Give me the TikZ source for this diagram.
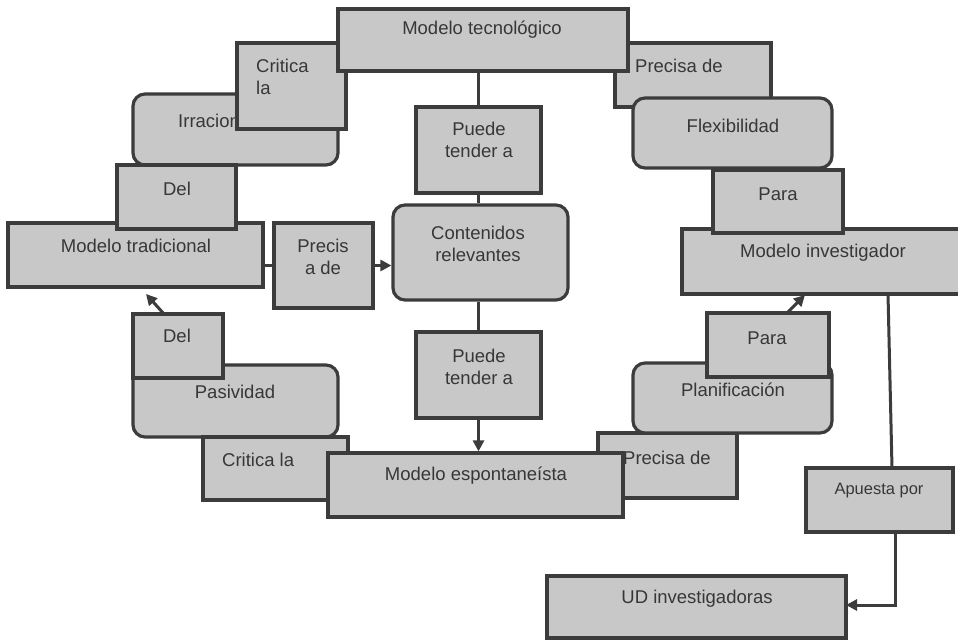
\documentclass[tikz,border=0pt]{standalone}
\usepackage{fontspec}
\setmainfont{Liberation Sans}
\usetikzlibrary{arrows.meta}
\pgfdeclarelayer{background}
\pgfsetlayers{background,main}
\definecolor{boxfill}{RGB}{200,200,200}
\definecolor{boxline}{RGB}{60,60,60}
\definecolor{txtcol}{RGB}{55,55,55}
\newcommand\mybox[6]{\node[#6, minimum width={#4-#2}, minimum height={#5-#3}] (#1) at ({(#2+#4)/2},{(#3+#5)/2}) {};}
\tikzset{
  sq/.style={draw=boxline, fill=boxfill, line width=3.2pt, inner sep=0pt, rectangle},
  rd/.style={sq, rounded corners=12pt},
  txt/.style={text=txtcol, font=\fontsize{18.5}{22.5}\selectfont, inner sep=0pt, align=center},
  txtl/.style={txt, align=left, anchor=west},
  conn/.style={draw=boxline, line width=3pt},
  arr/.style={conn, -{Triangle[length=11pt,width=11pt]}}
}
\begin{document}
\begin{tikzpicture}[x=1pt,y=-1pt]
\useasboundingbox (0,0) rectangle (958,640);
% boxes (drawing order = stacking order)
\mybox{irrac}{133}{94}{338}{165}{rd}
\node[txtl] (irrac-t) at (178,121) {Irracion};
\mybox{crit1}{237}{43}{346}{129}{sq}
\node[txtl] (crit1-t) at (256,77) {Critica\\la};
\mybox{prec1}{615}{43}{771}{107}{sq}
\node[txtl] (prec1-t) at (635,66) {Precisa de};
\mybox{modtec}{338}{9}{628}{71}{sq}
\node[txt] (modtec-t) at (482,30) {Modelo tecnológico};
\mybox{flex}{633}{98}{832}{168}{rd}
\node[txt] (flex-t) at (733,126) {Flexibilidad};
\mybox{modtrad}{8}{223}{263}{287}{sq}
\node[txt] (modtrad-t) at (136,246) {Modelo tradicional};
\mybox{del1}{117}{165}{236}{229}{sq}
\node[txt] (del1-t) at (177,189) {Del};
\mybox{modinv}{682}{229}{968}{294}{sq}
\node[txt] (modinv-t) at (823,253) {Modelo investigador};
\mybox{para1}{713}{170}{843}{233}{sq}
\node[txt] (para1-t) at (778,194) {Para};
\mybox{preci}{274}{223}{373}{308}{sq}
\node[txt] (preci-t) at (323,257) {Precis\\a de};
\mybox{cont}{393}{205}{568}{300}{rd}
\node[txt] (cont-t) at (478,244) {Contenidos\\relevantes};
\mybox{pued1}{416}{107}{541}{193}{sq}
\node[txt] (pued1-t) at (479,140) {Puede\\tender a};
\mybox{pued2}{416}{332}{541}{418}{sq}
\node[txt] (pued2-t) at (479,367) {Puede\\tender a};
\mybox{pasiv}{133}{365}{338}{437}{rd}
\node[txt] (pasiv-t) at (235,392) {Pasividad};
\mybox{del2}{133}{314}{223}{378}{sq}
\node[txt] (del2-t) at (177,336) {Del};
\mybox{crit2}{203}{437}{348}{500}{sq}
\node[txtl] (crit2-t) at (222,460) {Critica la};
\mybox{prec2}{598}{433}{737}{498}{sq}
\node[txtl] (prec2-t) at (623,458) {Precisa de};
\mybox{modesp}{328}{453}{623}{517}{sq}
\node[txt] (modesp-t) at (476,476) {Modelo espontaneísta};
\mybox{planif}{633}{363}{832}{433}{rd}
\node[txt] (planif-t) at (733,390) {Planificación};
\mybox{para2}{707}{313}{829}{377}{sq}
\node[txt] (para2-t) at (767,338) {Para};
\mybox{apues}{806}{468}{953}{532}{sq}
\node[txt, font=\fontsize{16.5}{20}\selectfont] (apues-t) at (879,491) {Apuesta por};
\mybox{ud}{547}{576}{846}{638}{sq}
\node[txt] (ud-t) at (697,599) {UD investigadoras};
% helper coordinates
\coordinate (c1) at (164,314);
\coordinate (c2) at (146,294);
\coordinate (c3) at (786,314);
\coordinate (c4) at (805,295);
\coordinate (c5) at (888,294);
\coordinate (c6) at (892,468);
\coordinate (c7) at (895,532);
\coordinate (c8) at (895,605);
\coordinate (c9) at (846,605);
\coordinate (c10) at (300,80);
\coordinate (c11) at (338,42);
% connectors
\begin{pgfonlayer}{background}
\draw[conn] (modtec.south -| pued1) -- (pued1.north);
\draw[conn] (pued1.south) -- (cont.north -| pued1);
\draw[conn] (cont.south -| pued2) -- (pued2.north);
\draw[arr] (pued2.south) -- (modesp.north -| pued2);
\draw[conn] (modtrad.east |- preci) -- (preci.west);
\draw[arr] (preci.east) -- (cont.west |- preci);
\draw[arr] (c1) -- (c2);
\draw[arr] (c3) -- (c4);
\draw[conn] (c5) -- (c6);
\draw[arr] (c7) -- (c8) -- (c9);
\draw[arr] (c10) -- (c11);
\end{pgfonlayer}
\end{tikzpicture}
\end{document}
